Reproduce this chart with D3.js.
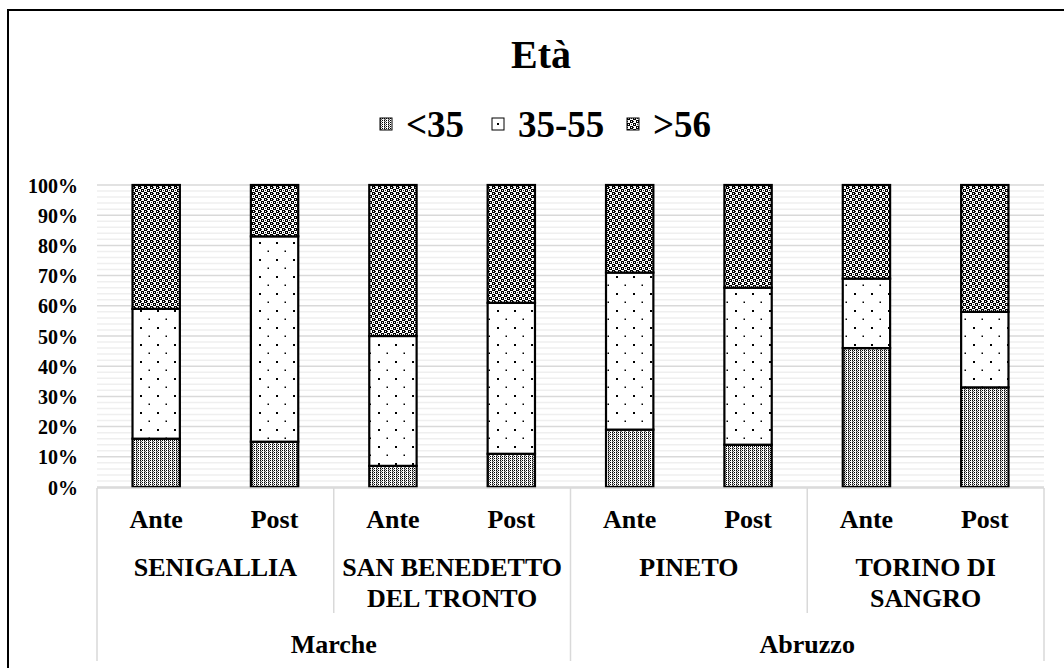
<!DOCTYPE html>
<html>
<head>
<meta charset="utf-8">
<script src="https://cdn.jsdelivr.net/npm/d3@7"></script>
<style>
  body { margin: 0; background: #fff; }
</style>
</head>
<body>
<div id="eta-chart"></div>
<script>
// data
const regions = ["Marche", "Abruzzo"];
const places = ["SENIGALLIA", "SAN BENEDETTO DEL TRONTO", "PINETO", "TORINO DI SANGRO"];
const placeLines = [["SENIGALLIA"], ["SAN BENEDETTO", "DEL TRONTO"], ["PINETO"], ["TORINO DI", "SANGRO"]];
const periods = ["Ante", "Post"];
const ageGroups = ["<35", "35-55", ">56"];
const under35 = [16, 15, 7, 11, 19, 14, 46, 33];
const from35to55 = [43, 68, 43, 50, 52, 52, 23, 25];
const over56 = [41, 17, 50, 39, 29, 34, 31, 42];
const yTicks = [0, 0.1, 0.2, 0.3, 0.4, 0.5, 0.6, 0.7, 0.8, 0.9, 1];

const id = 'eta-chart';
const W = 1064, H = 668;
const serif = '"Liberation Serif", "Times New Roman", serif';

// one row per bar
const rows = [];
places.forEach((p, pi) => {
    periods.forEach((per, j) => {
        const i = pi * 2 + j;
        rows.push({
            key: p + "|" + per,
            place: p,
            period: per,
            "<35": under35[i],
            "35-55": from35to55[i],
            ">56": over56[i]
        });
    });
});

const svg = d3.select(`#${id}`)
    .append('svg')
    .attr("width", W)
    .attr("height", H);

/* patterns */
const defs = svg.append("defs");

function pattern(pid, w, h, cells) {
    const p = defs.append("pattern").attr("id", pid)
        .attr("patternUnits", "userSpaceOnUse").attr("width", w).attr("height", h);
    p.append("rect").attr("width", w).attr("height", h).attr("fill", "#fff");
    cells.forEach(c => {
        p.append("rect").attr("x", c[0]).attr("y", c[1])
            .attr("width", c[2]).attr("height", c[3]).attr("fill", c[4] || "#000");
    });
}

pattern("pat-under35", 4, 2, [[0, 0, 1, 1], [2, 0, 1, 1], [1, 1, 1, 1, "#666"], [0, 1, 1, 1, "#888"]]);
pattern("pat-35-55", 17, 17, [[4, 4, 2, 2], [12.5, 12.5, 1.5, 1.5]]);
pattern("pat-over56", 6, 6, [[0, 0, 3, 3], [3, 3, 3, 3], [1, 1, 1, 1, "#fff"], [4, 4, 1, 1, "#fff"], [3, 1, 1, 1, "#222"], [1, 4, 1, 1, "#222"]]);

const fills = { "<35": "url(#pat-under35)", "35-55": "url(#pat-35-55)", ">56": "url(#pat-over56)" };

/* outer frame */
svg.append("rect")
    .attr("x", 8).attr("y", 10)
    .attr("width", W + 20).attr("height", H + 20)
    .attr("fill", "none").attr("stroke", "#000").attr("stroke-width", 2);

/* title */
svg.append("text")
    .attr("x", 541).attr("y", 68)
    .attr("text-anchor", "middle")
    .style("font-size", "40px")
    .text("Età");

/* legend */
const legendPos = [380, 492, 627];
const legend = svg.append("g");
ageGroups.forEach((g, i) => {
    legend.append("rect")
        .attr("x", legendPos[i]).attr("y", 118)
        .attr("width", 12).attr("height", 12)
        .attr("fill", fills[g]).attr("stroke", "#000").attr("stroke-width", 1);
    legend.append("text")
        .attr("x", legendPos[i] + 26).attr("y", 137)
        .style("font-size", "37px")
        .text(g);
});

/* scales */
const plotLeft = 97, plotRight = 1044, plotTop = 185, plotBottom = 487;

const x = d3.scaleBand()
    .domain(rows.map(d => d.key))
    .range([plotLeft, plotRight])
    .paddingInner(0.6)
    .paddingOuter(0.3);

const y = d3.scaleLinear()
    .domain([0, 1])
    .range([plotBottom, plotTop]);

/* minor + major gridlines */
const minor = d3.range(0, 1.0001, 0.02).filter(v => Math.round(v * 100) % 10 !== 0);
svg.append("g").selectAll("line.minor")
    .data(minor).enter().append("line")
    .attr("x1", plotLeft).attr("x2", plotRight)
    .attr("y1", d => y(d)).attr("y2", d => y(d))
    .attr("stroke", "#efefef").attr("stroke-width", 1.5);

svg.append("g").selectAll("line.major")
    .data(yTicks).enter().append("line")
    .attr("x1", plotLeft).attr("x2", plotRight)
    .attr("y1", d => y(d)).attr("y2", d => y(d))
    .attr("stroke", "#d9d9d9").attr("stroke-width", 1.5);

/* Y-axis */
const yAxis = svg.append('g')
    .attr("transform", `translate(${plotLeft - 16}, 0)`)
    .call(d3.axisLeft(y).tickValues(yTicks).tickFormat(d3.format(".0%")).tickSize(0));
yAxis.select(".domain").remove();
yAxis.selectAll("text")
    .style("font-size", "20px")
    .attr("dy", "0.35em");

/* stacked bars */
const stack = d3.stack().keys(ageGroups).offset(d3.stackOffsetExpand);
const series = stack(rows);

svg.append("g").selectAll("g")
    .data(series).enter().append("g")
    .attr("fill", d => fills[d.key])
    .selectAll("rect")
    .data(d => d).enter().append("rect")
    .attr("x", d => x(d.data.key))
    .attr("y", d => y(d[1]))
    .attr("width", x.bandwidth())
    .attr("height", d => y(d[0]) - y(d[1]))
    .attr("stroke", "#000")
    .attr("stroke-width", 2.2);

/* multi-level category axis */
const axisG = svg.append("g");
const step = x.step();
const lineColor = "#d9d9d9";

axisG.append("line")
    .attr("x1", plotLeft).attr("x2", plotRight)
    .attr("y1", plotBottom + 1).attr("y2", plotBottom + 1)
    .attr("stroke", lineColor).attr("stroke-width", 1.5);

// place separators (short) and region separators (long)
places.forEach((p, i) => {
    const bx = plotLeft + i * 2 * step;
    const isRegionEdge = i % 2 === 0;
    axisG.append("line")
        .attr("x1", bx).attr("x2", bx)
        .attr("y1", plotBottom + 1).attr("y2", isRegionEdge ? 661 : 613)
        .attr("stroke", lineColor).attr("stroke-width", 1.5);
});
axisG.append("line")
    .attr("x1", plotRight).attr("x2", plotRight)
    .attr("y1", plotBottom + 1).attr("y2", 661)
    .attr("stroke", lineColor).attr("stroke-width", 1.5);

// level 1: Ante / Post
axisG.selectAll("text.period")
    .data(rows).enter().append("text")
    .attr("x", d => x(d.key) + x.bandwidth() / 2)
    .attr("y", 528)
    .attr("text-anchor", "middle")
    .style("font-size", "26px")
    .text(d => d.period);

// level 2: places
places.forEach((p, i) => {
    const cx = plotLeft + (i * 2 + 1) * step;
    const t = axisG.append("text")
        .attr("x", cx).attr("y", 576)
        .attr("text-anchor", "middle")
        .style("font-size", "26px");
    placeLines[i].forEach((ln, k) => {
        t.append("tspan").attr("x", cx).attr("dy", k === 0 ? 0 : 31).text(ln);
    });
});

// level 3: regions
regions.forEach((r, i) => {
    const cx = plotLeft + (i * 4 + 2) * step;
    axisG.append("text")
        .attr("x", cx).attr("y", 653)
        .attr("text-anchor", "middle")
        .style("font-size", "26px")
        .text(r);
});

// same serif face everywhere
svg.selectAll("text")
    .style("font-family", serif)
    .style("font-weight", "bold")
    .style("fill", "#000");
</script>
</body>
</html>
